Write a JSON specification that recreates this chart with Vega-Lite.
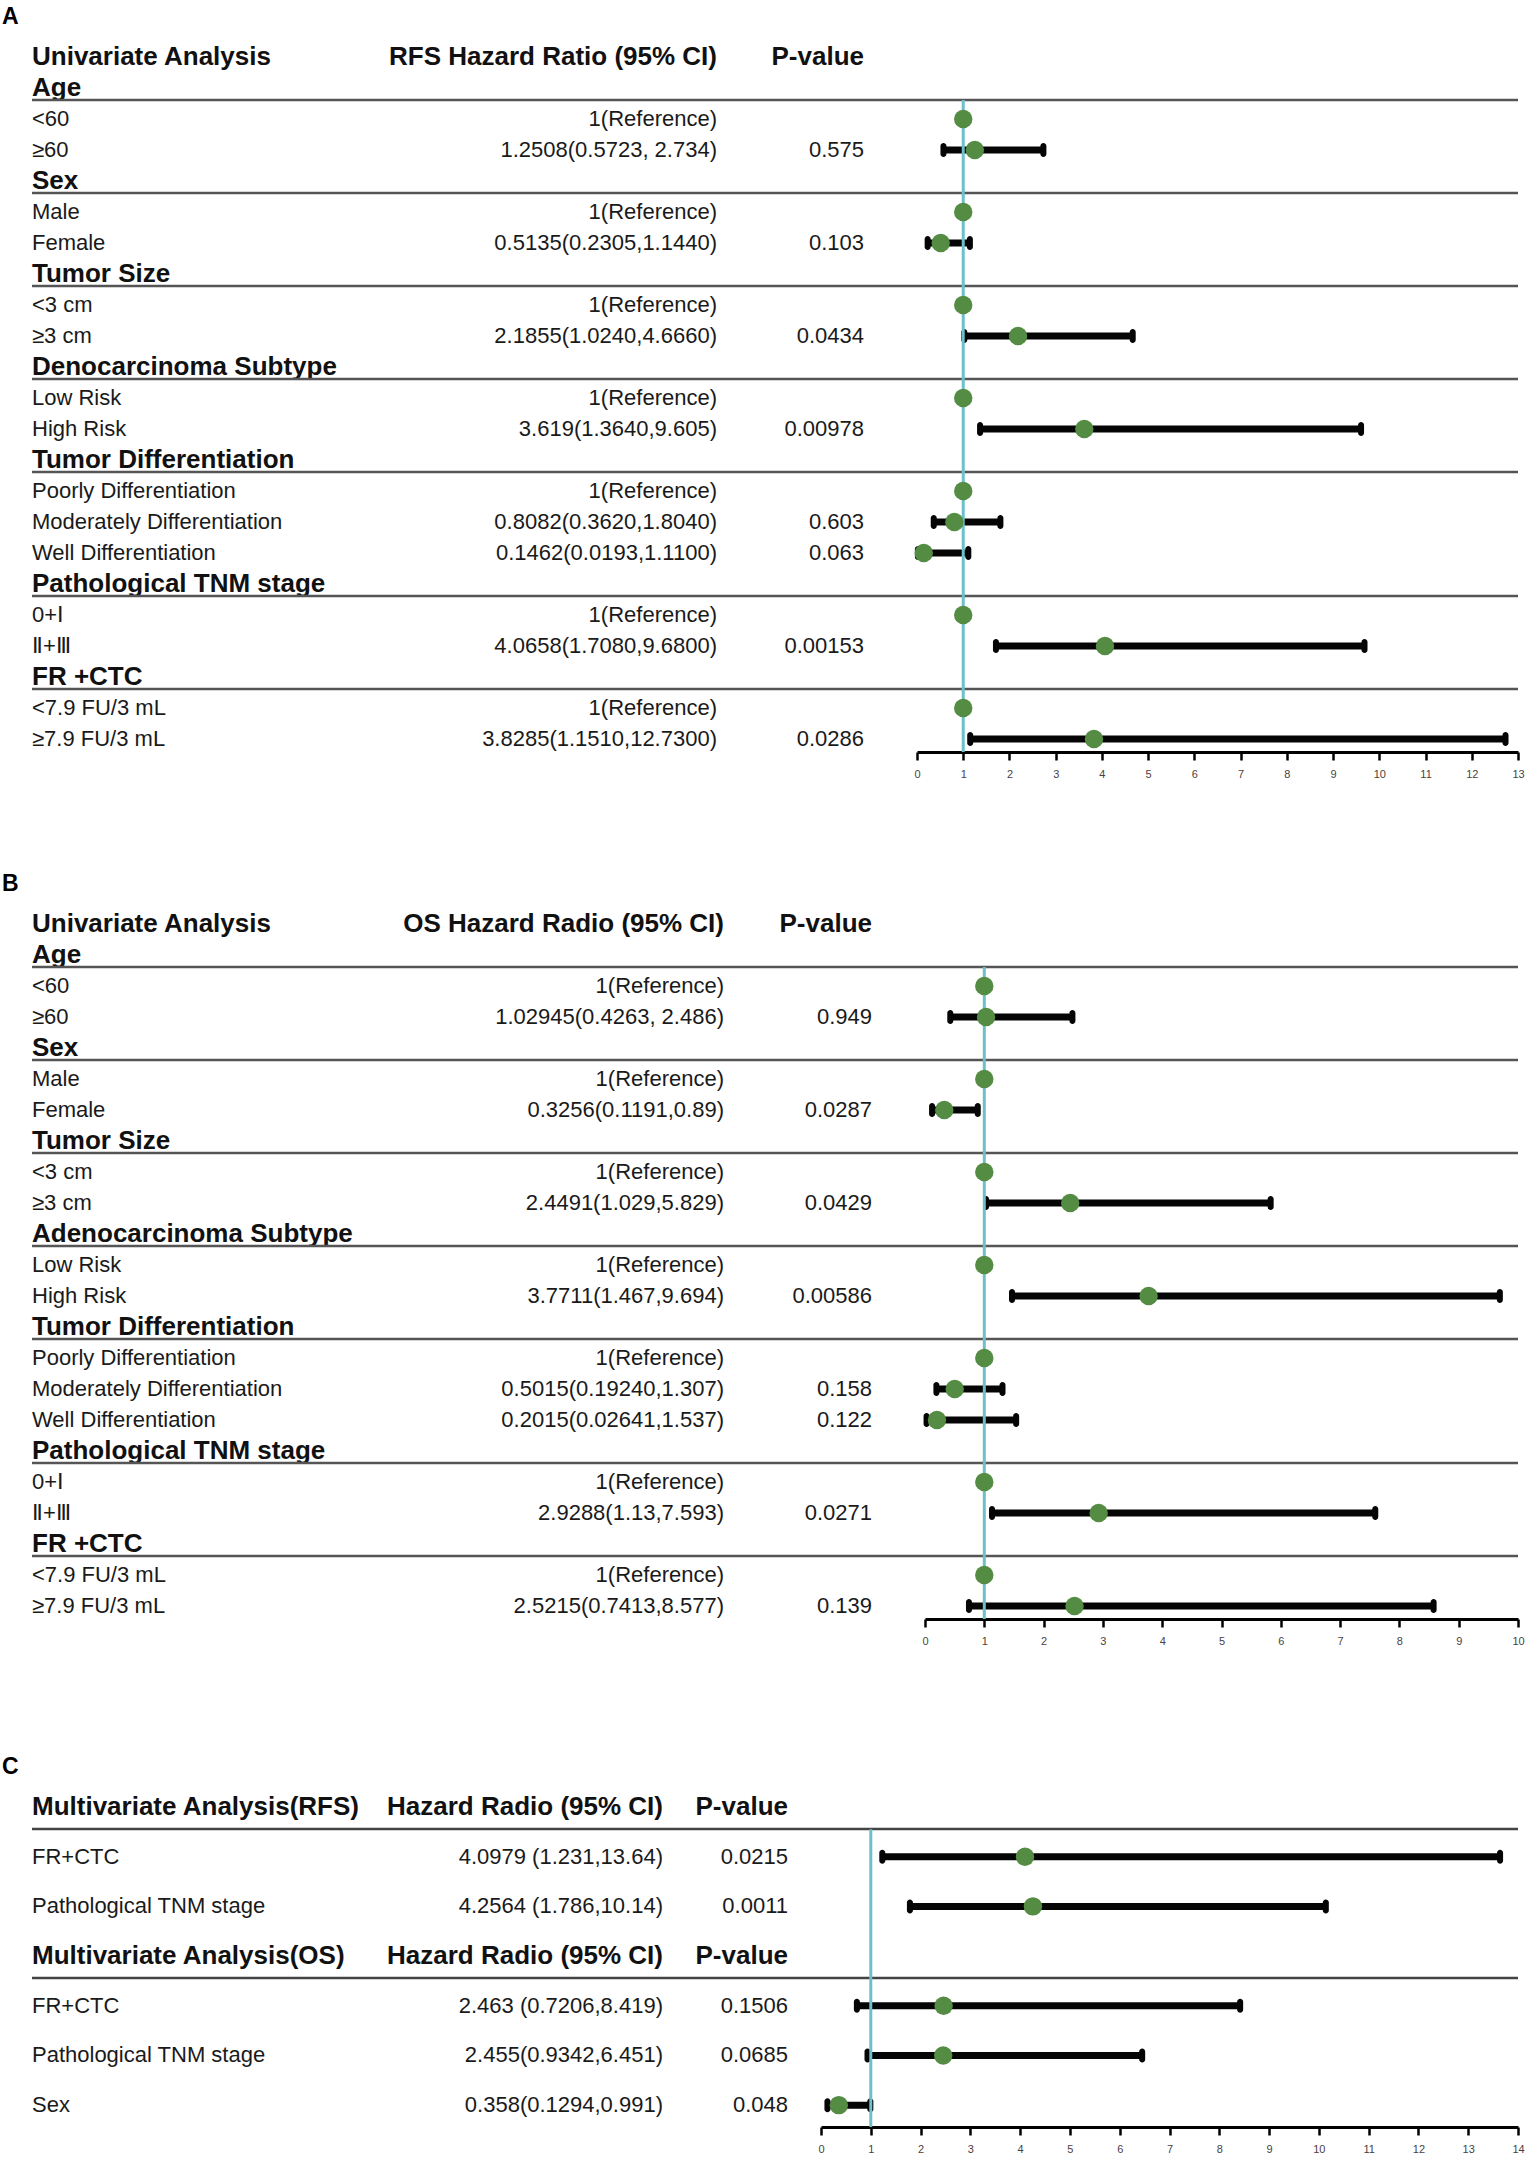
{
  "$schema": "https://vega.github.io/schema/vega-lite/v6.json",
  "background": "white",
  "padding": {"left": 2, "top": 0, "right": 0, "bottom": 0},
  "autosize": {"type": "pad"},
  "spacing": 88,
  "config": {
    "view": {"stroke": null},
    "text": {"font": "Liberation Sans", "color": "#1a1a1a"},
    "axis": {"labelFont": "Liberation Sans"}
  },
  "datasets": {
    "A": [
      {"r": -1.3, "kind": "letter", "label": "A", "hrtxt": "", "ptxt": ""},
      {"r": 0, "kind": "head", "label": "Univariate Analysis", "hrtxt": "RFS Hazard Ratio (95% CI)", "ptxt": "P-value"},
      {"r": 1, "kind": "cat", "label": "Age", "hrtxt": "", "ptxt": ""},
      {"r": 2, "kind": "item", "label": "<60", "hrtxt": "1(Reference)", "ptxt": "", "hr": 1},
      {"r": 3, "kind": "item", "label": "≥60", "hrtxt": "1.2508(0.5723, 2.734)", "ptxt": "0.575", "hr": 1.2508, "lo": 0.5723, "hi": 2.734},
      {"r": 4, "kind": "cat", "label": "Sex", "hrtxt": "", "ptxt": ""},
      {"r": 5, "kind": "item", "label": "Male", "hrtxt": "1(Reference)", "ptxt": "", "hr": 1},
      {"r": 6, "kind": "item", "label": "Female", "hrtxt": "0.5135(0.2305,1.1440)", "ptxt": "0.103", "hr": 0.5135, "lo": 0.2305, "hi": 1.144},
      {"r": 7, "kind": "cat", "label": "Tumor Size", "hrtxt": "", "ptxt": ""},
      {"r": 8, "kind": "item", "label": "<3 cm", "hrtxt": "1(Reference)", "ptxt": "", "hr": 1},
      {"r": 9, "kind": "item", "label": "≥3 cm", "hrtxt": "2.1855(1.0240,4.6660)", "ptxt": "0.0434", "hr": 2.1855, "lo": 1.024, "hi": 4.666},
      {"r": 10, "kind": "cat", "label": "Denocarcinoma Subtype", "hrtxt": "", "ptxt": ""},
      {"r": 11, "kind": "item", "label": "Low Risk", "hrtxt": "1(Reference)", "ptxt": "", "hr": 1},
      {"r": 12, "kind": "item", "label": "High Risk", "hrtxt": "3.619(1.3640,9.605)", "ptxt": "0.00978", "hr": 3.619, "lo": 1.364, "hi": 9.605},
      {"r": 13, "kind": "cat", "label": "Tumor Differentiation", "hrtxt": "", "ptxt": ""},
      {"r": 14, "kind": "item", "label": "Poorly Differentiation", "hrtxt": "1(Reference)", "ptxt": "", "hr": 1},
      {"r": 15, "kind": "item", "label": "Moderately Differentiation", "hrtxt": "0.8082(0.3620,1.8040)", "ptxt": "0.603", "hr": 0.8082, "lo": 0.362, "hi": 1.804},
      {"r": 16, "kind": "item", "label": "Well Differentiation", "hrtxt": "0.1462(0.0193,1.1100)", "ptxt": "0.063", "hr": 0.1462, "lo": 0.0193, "hi": 1.11},
      {"r": 17, "kind": "cat", "label": "Pathological TNM stage", "hrtxt": "", "ptxt": ""},
      {"r": 18, "kind": "item", "label": "0+Ⅰ", "hrtxt": "1(Reference)", "ptxt": "", "hr": 1},
      {"r": 19, "kind": "item", "label": "Ⅱ+Ⅲ", "hrtxt": "4.0658(1.7080,9.6800)", "ptxt": "0.00153", "hr": 4.0658, "lo": 1.708, "hi": 9.68},
      {"r": 20, "kind": "cat", "label": "FR +CTC", "hrtxt": "", "ptxt": ""},
      {"r": 21, "kind": "item", "label": "<7.9 FU/3 mL", "hrtxt": "1(Reference)", "ptxt": "", "hr": 1},
      {"r": 22, "kind": "item", "label": "≥7.9 FU/3 mL", "hrtxt": "3.8285(1.1510,12.7300)", "ptxt": "0.0286", "hr": 3.8285, "lo": 1.151, "hi": 12.73}
    ],
    "B": [
      {"r": -1.3, "kind": "letter", "label": "B", "hrtxt": "", "ptxt": ""},
      {"r": 0, "kind": "head", "label": "Univariate Analysis", "hrtxt": "OS Hazard Radio (95% CI)", "ptxt": "P-value"},
      {"r": 1, "kind": "cat", "label": "Age", "hrtxt": "", "ptxt": ""},
      {"r": 2, "kind": "item", "label": "<60", "hrtxt": "1(Reference)", "ptxt": "", "hr": 1},
      {"r": 3, "kind": "item", "label": "≥60", "hrtxt": "1.02945(0.4263, 2.486)", "ptxt": "0.949", "hr": 1.02945, "lo": 0.4263, "hi": 2.486},
      {"r": 4, "kind": "cat", "label": "Sex", "hrtxt": "", "ptxt": ""},
      {"r": 5, "kind": "item", "label": "Male", "hrtxt": "1(Reference)", "ptxt": "", "hr": 1},
      {"r": 6, "kind": "item", "label": "Female", "hrtxt": "0.3256(0.1191,0.89)", "ptxt": "0.0287", "hr": 0.3256, "lo": 0.1191, "hi": 0.89},
      {"r": 7, "kind": "cat", "label": "Tumor Size", "hrtxt": "", "ptxt": ""},
      {"r": 8, "kind": "item", "label": "<3 cm", "hrtxt": "1(Reference)", "ptxt": "", "hr": 1},
      {"r": 9, "kind": "item", "label": "≥3 cm", "hrtxt": "2.4491(1.029,5.829)", "ptxt": "0.0429", "hr": 2.4491, "lo": 1.029, "hi": 5.829},
      {"r": 10, "kind": "cat", "label": "Adenocarcinoma Subtype", "hrtxt": "", "ptxt": ""},
      {"r": 11, "kind": "item", "label": "Low Risk", "hrtxt": "1(Reference)", "ptxt": "", "hr": 1},
      {"r": 12, "kind": "item", "label": "High Risk", "hrtxt": "3.7711(1.467,9.694)", "ptxt": "0.00586", "hr": 3.7711, "lo": 1.467, "hi": 9.694},
      {"r": 13, "kind": "cat", "label": "Tumor Differentiation", "hrtxt": "", "ptxt": ""},
      {"r": 14, "kind": "item", "label": "Poorly Differentiation", "hrtxt": "1(Reference)", "ptxt": "", "hr": 1},
      {"r": 15, "kind": "item", "label": "Moderately Differentiation", "hrtxt": "0.5015(0.19240,1.307)", "ptxt": "0.158", "hr": 0.5015, "lo": 0.1924, "hi": 1.307},
      {"r": 16, "kind": "item", "label": "Well Differentiation", "hrtxt": "0.2015(0.02641,1.537)", "ptxt": "0.122", "hr": 0.2015, "lo": 0.02641, "hi": 1.537},
      {"r": 17, "kind": "cat", "label": "Pathological TNM stage", "hrtxt": "", "ptxt": ""},
      {"r": 18, "kind": "item", "label": "0+Ⅰ", "hrtxt": "1(Reference)", "ptxt": "", "hr": 1},
      {"r": 19, "kind": "item", "label": "Ⅱ+Ⅲ", "hrtxt": "2.9288(1.13,7.593)", "ptxt": "0.0271", "hr": 2.9288, "lo": 1.13, "hi": 7.593},
      {"r": 20, "kind": "cat", "label": "FR +CTC", "hrtxt": "", "ptxt": ""},
      {"r": 21, "kind": "item", "label": "<7.9 FU/3 mL", "hrtxt": "1(Reference)", "ptxt": "", "hr": 1},
      {"r": 22, "kind": "item", "label": "≥7.9 FU/3 mL", "hrtxt": "2.5215(0.7413,8.577)", "ptxt": "0.139", "hr": 2.5215, "lo": 0.7413, "hi": 8.577}
    ],
    "C": [
      {"r": -0.8, "kind": "letter", "label": "C", "hrtxt": "", "ptxt": ""},
      {"r": 0, "kind": "head", "label": "Multivariate Analysis(RFS)", "hrtxt": "Hazard Radio (95% CI)", "ptxt": "P-value"},
      {"r": 1, "kind": "item", "label": "FR+CTC", "hrtxt": "4.0979 (1.231,13.64)", "ptxt": "0.0215", "hr": 4.0979, "lo": 1.231, "hi": 13.64},
      {"r": 2, "kind": "item", "label": "Pathological TNM stage", "hrtxt": "4.2564 (1.786,10.14)", "ptxt": "0.0011", "hr": 4.2564, "lo": 1.786, "hi": 10.14},
      {"r": 3, "kind": "head", "label": "Multivariate Analysis(OS)", "hrtxt": "Hazard Radio (95% CI)", "ptxt": "P-value"},
      {"r": 4, "kind": "item", "label": "FR+CTC", "hrtxt": "2.463 (0.7206,8.419)", "ptxt": "0.1506", "hr": 2.463, "lo": 0.7206, "hi": 8.419},
      {"r": 5, "kind": "item", "label": "Pathological TNM stage", "hrtxt": "2.455(0.9342,6.451)", "ptxt": "0.0685", "hr": 2.455, "lo": 0.9342, "hi": 6.451},
      {"r": 6, "kind": "item", "label": "Sex", "hrtxt": "0.358(0.1294,0.991)", "ptxt": "0.048", "hr": 0.358, "lo": 0.1294, "hi": 0.991}
    ]
  },
  "vconcat": [
    {
      "bounds": "flush",
      "spacing": 0,
      "hconcat": [
        {
          "width": 30, "height": 752, "data": {"name": "A"},
          "layer": [
            {"transform": [{"filter": "datum.kind == 'letter'"}],
             "mark": {"type": "text", "align": "left", "baseline": "middle", "fontSize": 23, "fontWeight": "bold", "color": "#000000"},
             "encoding": {"x": {"datum": "letter", "type": "nominal", "scale": {"type": "point", "domain": ["letter", "label"], "padding": 0}, "axis": null},
                          "y": {"field": "r", "type": "quantitative", "scale": {"domain": [-1.839, 22.42], "reverse": true, "nice": false, "zero": false}, "axis": null},
                          "text": {"field": "label"}}},
            {"transform": [{"filter": "datum.kind == 'head' || datum.kind == 'cat'"}],
             "mark": {"type": "text", "align": "left", "baseline": "middle", "fontSize": 26, "fontWeight": "bold", "color": "#111111"},
             "encoding": {"x": {"datum": "label", "type": "nominal"}, "y": {"field": "r", "type": "quantitative"}, "text": {"field": "label"}}},
            {"transform": [{"filter": "datum.kind == 'item'"}],
             "mark": {"type": "text", "align": "left", "baseline": "middle", "fontSize": 22, "color": "#1a1a1a"},
             "encoding": {"x": {"datum": "label", "type": "nominal"}, "y": {"field": "r", "type": "quantitative"}, "text": {"field": "label"}}}
          ]
        },
        {
          "width": 685, "height": 752, "data": {"name": "A"},
          "layer": [
            {"transform": [{"filter": "datum.kind == 'cat'"}],
             "mark": {"type": "rule", "yOffset": 12, "color": "#555555", "strokeWidth": 2.5},
             "encoding": {"y": {"field": "r", "type": "quantitative", "scale": {"domain": [-1.839, 22.42], "reverse": true, "nice": false, "zero": false}, "axis": null}}},
            {"transform": [{"filter": "datum.kind == 'head'"}],
             "mark": {"type": "text", "align": "right", "baseline": "middle", "fontSize": 26, "fontWeight": "bold", "color": "#111111"},
             "encoding": {"x": {"datum": "hr", "type": "nominal", "scale": {"type": "point", "domain": ["hr"], "padding": 0, "align": 1}, "axis": null},
                          "y": {"field": "r", "type": "quantitative"}, "text": {"field": "hrtxt"}}},
            {"transform": [{"filter": "datum.kind == 'item'"}],
             "mark": {"type": "text", "align": "right", "baseline": "middle", "fontSize": 22, "color": "#1a1a1a"},
             "encoding": {"x": {"datum": "hr", "type": "nominal"}, "y": {"field": "r", "type": "quantitative"}, "text": {"field": "hrtxt"}}}
          ]
        },
        {
          "width": 200, "height": 752, "data": {"name": "A"},
          "layer": [
            {"transform": [{"filter": "datum.kind == 'cat'"}],
             "mark": {"type": "rule", "yOffset": 12, "color": "#555555", "strokeWidth": 2.5},
             "encoding": {"y": {"field": "r", "type": "quantitative", "scale": {"domain": [-1.839, 22.42], "reverse": true, "nice": false, "zero": false}, "axis": null}}},
            {"transform": [{"filter": "datum.kind == 'head'"}],
             "mark": {"type": "text", "align": "right", "baseline": "middle", "fontSize": 26, "fontWeight": "bold", "color": "#111111"},
             "encoding": {"x": {"datum": "p", "type": "nominal", "scale": {"type": "point", "domain": ["p"], "padding": 0, "align": 0.735}, "axis": null},
                          "y": {"field": "r", "type": "quantitative"}, "text": {"field": "ptxt"}}},
            {"transform": [{"filter": "datum.kind == 'item'"}],
             "mark": {"type": "text", "align": "right", "baseline": "middle", "fontSize": 22, "color": "#1a1a1a"},
             "encoding": {"x": {"datum": "p", "type": "nominal"}, "y": {"field": "r", "type": "quantitative"}, "text": {"field": "ptxt"}}}
          ]
        },
        {
          "width": 601, "height": 752, "data": {"name": "A"},
          "layer": [
            {"transform": [{"filter": "datum.kind == 'cat'"}],
             "mark": {"type": "rule", "yOffset": 12, "color": "#555555", "strokeWidth": 2.5},
             "encoding": {"y": {"field": "r", "type": "quantitative", "scale": {"domain": [-1.839, 22.42], "reverse": true, "nice": false, "zero": false}, "axis": null}}},
            {"transform": [{"filter": "isValid(datum.lo)"}],
             "mark": {"type": "rule", "color": "#050505", "strokeWidth": 7},
             "encoding": {"x": {"field": "lo", "type": "quantitative", "scale": {"domain": [0, 13], "nice": false, "zero": false},
                                "axis": {"values": [0,1,2,3,4,5,6,7,8,9,10,11,12,13], "format": "d", "title": null, "grid": false, "domainColor": "#000000", "domainWidth": 3, "tickColor": "#000000", "tickWidth": 2.5, "tickSize": 8, "labelFontSize": 11, "labelColor": "#4a3f3f", "labelPadding": 8, "labelFlush": false, "labelOverlap": false}},
                          "x2": {"field": "hi"}, "y": {"field": "r", "type": "quantitative"}}},
            {"transform": [{"filter": "isValid(datum.lo)"}],
             "mark": {"type": "tick", "orient": "vertical", "color": "#050505", "thickness": 6, "size": 14, "cornerRadius": 3, "opacity": 1},
             "encoding": {"x": {"field": "lo", "type": "quantitative"}, "y": {"field": "r", "type": "quantitative"}}},
            {"transform": [{"filter": "isValid(datum.hi)"}],
             "mark": {"type": "tick", "orient": "vertical", "color": "#050505", "thickness": 6, "size": 14, "cornerRadius": 3, "opacity": 1},
             "encoding": {"x": {"field": "hi", "type": "quantitative"}, "y": {"field": "r", "type": "quantitative"}}},
            {"transform": [{"filter": "datum.kind == 'letter'"}],
             "mark": {"type": "rule", "color": "#6cc0cc", "strokeWidth": 3},
             "encoding": {"x": {"datum": 1, "type": "quantitative"}, "y": {"datum": 1.39, "type": "quantitative"}, "y2": {"datum": 22.42}}},
            {"transform": [{"filter": "isValid(datum.hr)"}],
             "mark": {"type": "point", "shape": "circle", "filled": true, "size": 340, "color": "#548c44", "opacity": 1},
             "encoding": {"x": {"field": "hr", "type": "quantitative"}, "y": {"field": "r", "type": "quantitative"}}}
          ]
        }
      ]
    },
    {
      "bounds": "flush",
      "spacing": 0,
      "hconcat": [
        {
          "width": 30, "height": 752, "data": {"name": "B"},
          "layer": [
            {"transform": [{"filter": "datum.kind == 'letter'"}],
             "mark": {"type": "text", "align": "left", "baseline": "middle", "fontSize": 23, "fontWeight": "bold", "color": "#000000"},
             "encoding": {"x": {"datum": "letter", "type": "nominal", "scale": {"type": "point", "domain": ["letter", "label"], "padding": 0}, "axis": null},
                          "y": {"field": "r", "type": "quantitative", "scale": {"domain": [-1.839, 22.42], "reverse": true, "nice": false, "zero": false}, "axis": null},
                          "text": {"field": "label"}}},
            {"transform": [{"filter": "datum.kind == 'head' || datum.kind == 'cat'"}],
             "mark": {"type": "text", "align": "left", "baseline": "middle", "fontSize": 26, "fontWeight": "bold", "color": "#111111"},
             "encoding": {"x": {"datum": "label", "type": "nominal"}, "y": {"field": "r", "type": "quantitative"}, "text": {"field": "label"}}},
            {"transform": [{"filter": "datum.kind == 'item'"}],
             "mark": {"type": "text", "align": "left", "baseline": "middle", "fontSize": 22, "color": "#1a1a1a"},
             "encoding": {"x": {"datum": "label", "type": "nominal"}, "y": {"field": "r", "type": "quantitative"}, "text": {"field": "label"}}}
          ]
        },
        {
          "width": 692, "height": 752, "data": {"name": "B"},
          "layer": [
            {"transform": [{"filter": "datum.kind == 'cat'"}],
             "mark": {"type": "rule", "yOffset": 12, "color": "#555555", "strokeWidth": 2.5},
             "encoding": {"y": {"field": "r", "type": "quantitative", "scale": {"domain": [-1.839, 22.42], "reverse": true, "nice": false, "zero": false}, "axis": null}}},
            {"transform": [{"filter": "datum.kind == 'head'"}],
             "mark": {"type": "text", "align": "right", "baseline": "middle", "fontSize": 26, "fontWeight": "bold", "color": "#111111"},
             "encoding": {"x": {"datum": "hr", "type": "nominal", "scale": {"type": "point", "domain": ["hr"], "padding": 0, "align": 1}, "axis": null},
                          "y": {"field": "r", "type": "quantitative"}, "text": {"field": "hrtxt"}}},
            {"transform": [{"filter": "datum.kind == 'item'"}],
             "mark": {"type": "text", "align": "right", "baseline": "middle", "fontSize": 22, "color": "#1a1a1a"},
             "encoding": {"x": {"datum": "hr", "type": "nominal"}, "y": {"field": "r", "type": "quantitative"}, "text": {"field": "hrtxt"}}}
          ]
        },
        {
          "width": 201, "height": 752, "data": {"name": "B"},
          "layer": [
            {"transform": [{"filter": "datum.kind == 'cat'"}],
             "mark": {"type": "rule", "yOffset": 12, "color": "#555555", "strokeWidth": 2.5},
             "encoding": {"y": {"field": "r", "type": "quantitative", "scale": {"domain": [-1.839, 22.42], "reverse": true, "nice": false, "zero": false}, "axis": null}}},
            {"transform": [{"filter": "datum.kind == 'head'"}],
             "mark": {"type": "text", "align": "right", "baseline": "middle", "fontSize": 26, "fontWeight": "bold", "color": "#111111"},
             "encoding": {"x": {"datum": "p", "type": "nominal", "scale": {"type": "point", "domain": ["p"], "padding": 0, "align": 0.7363}, "axis": null},
                          "y": {"field": "r", "type": "quantitative"}, "text": {"field": "ptxt"}}},
            {"transform": [{"filter": "datum.kind == 'item'"}],
             "mark": {"type": "text", "align": "right", "baseline": "middle", "fontSize": 22, "color": "#1a1a1a"},
             "encoding": {"x": {"datum": "p", "type": "nominal"}, "y": {"field": "r", "type": "quantitative"}, "text": {"field": "ptxt"}}}
          ]
        },
        {
          "width": 593, "height": 752, "data": {"name": "B"},
          "layer": [
            {"transform": [{"filter": "datum.kind == 'cat'"}],
             "mark": {"type": "rule", "yOffset": 12, "color": "#555555", "strokeWidth": 2.5},
             "encoding": {"y": {"field": "r", "type": "quantitative", "scale": {"domain": [-1.839, 22.42], "reverse": true, "nice": false, "zero": false}, "axis": null}}},
            {"transform": [{"filter": "isValid(datum.lo)"}],
             "mark": {"type": "rule", "color": "#050505", "strokeWidth": 7},
             "encoding": {"x": {"field": "lo", "type": "quantitative", "scale": {"domain": [0, 10], "nice": false, "zero": false},
                                "axis": {"values": [0,1,2,3,4,5,6,7,8,9,10], "format": "d", "title": null, "grid": false, "domainColor": "#000000", "domainWidth": 3, "tickColor": "#000000", "tickWidth": 2.5, "tickSize": 8, "labelFontSize": 11, "labelColor": "#4a3f3f", "labelPadding": 8, "labelFlush": false, "labelOverlap": false}},
                          "x2": {"field": "hi"}, "y": {"field": "r", "type": "quantitative"}}},
            {"transform": [{"filter": "isValid(datum.lo)"}],
             "mark": {"type": "tick", "orient": "vertical", "color": "#050505", "thickness": 6, "size": 14, "cornerRadius": 3, "opacity": 1},
             "encoding": {"x": {"field": "lo", "type": "quantitative"}, "y": {"field": "r", "type": "quantitative"}}},
            {"transform": [{"filter": "isValid(datum.hi)"}],
             "mark": {"type": "tick", "orient": "vertical", "color": "#050505", "thickness": 6, "size": 14, "cornerRadius": 3, "opacity": 1},
             "encoding": {"x": {"field": "hi", "type": "quantitative"}, "y": {"field": "r", "type": "quantitative"}}},
            {"transform": [{"filter": "datum.kind == 'letter'"}],
             "mark": {"type": "rule", "color": "#6cc0cc", "strokeWidth": 3},
             "encoding": {"x": {"datum": 1, "type": "quantitative"}, "y": {"datum": 1.39, "type": "quantitative"}, "y2": {"datum": 22.42}}},
            {"transform": [{"filter": "isValid(datum.hr)"}],
             "mark": {"type": "point", "shape": "circle", "filled": true, "size": 340, "color": "#548c44", "opacity": 1},
             "encoding": {"x": {"field": "hr", "type": "quantitative"}, "y": {"field": "r", "type": "quantitative"}}}
          ]
        }
      ]
    },
    {
      "bounds": "flush",
      "spacing": 0,
      "hconcat": [
        {
          "width": 30, "height": 393, "data": {"name": "C"},
          "layer": [
            {"transform": [{"filter": "datum.kind == 'letter'"}],
             "mark": {"type": "text", "align": "left", "baseline": "middle", "fontSize": 23, "fontWeight": "bold", "color": "#000000"},
             "encoding": {"x": {"datum": "letter", "type": "nominal", "scale": {"type": "point", "domain": ["letter", "label"], "padding": 0}, "axis": null},
                          "y": {"field": "r", "type": "quantitative", "scale": {"domain": [-1.469, 6.44], "reverse": true, "nice": false, "zero": false}, "axis": null},
                          "text": {"field": "label"}}},
            {"transform": [{"filter": "datum.kind == 'head'"}],
             "mark": {"type": "text", "align": "left", "baseline": "middle", "fontSize": 26, "fontWeight": "bold", "color": "#111111"},
             "encoding": {"x": {"datum": "label", "type": "nominal"}, "y": {"field": "r", "type": "quantitative"}, "text": {"field": "label"}}},
            {"transform": [{"filter": "datum.kind == 'item'"}],
             "mark": {"type": "text", "align": "left", "baseline": "middle", "fontSize": 22, "color": "#1a1a1a"},
             "encoding": {"x": {"datum": "label", "type": "nominal"}, "y": {"field": "r", "type": "quantitative"}, "text": {"field": "label"}}}
          ]
        },
        {
          "width": 631, "height": 393, "data": {"name": "C"},
          "layer": [
            {"transform": [{"filter": "datum.kind == 'head'"}],
             "mark": {"type": "rule", "yOffset": 22, "color": "#444444", "strokeWidth": 2.5},
             "encoding": {"y": {"field": "r", "type": "quantitative", "scale": {"domain": [-1.469, 6.44], "reverse": true, "nice": false, "zero": false}, "axis": null}}},
            {"transform": [{"filter": "datum.kind == 'head'"}],
             "mark": {"type": "text", "align": "right", "baseline": "middle", "fontSize": 26, "fontWeight": "bold", "color": "#111111"},
             "encoding": {"x": {"datum": "hr", "type": "nominal", "scale": {"type": "point", "domain": ["hr"], "padding": 0, "align": 1}, "axis": null},
                          "y": {"field": "r", "type": "quantitative"}, "text": {"field": "hrtxt"}}},
            {"transform": [{"filter": "datum.kind == 'item'"}],
             "mark": {"type": "text", "align": "right", "baseline": "middle", "fontSize": 22, "color": "#1a1a1a"},
             "encoding": {"x": {"datum": "hr", "type": "nominal"}, "y": {"field": "r", "type": "quantitative"}, "text": {"field": "hrtxt"}}}
          ]
        },
        {
          "width": 158, "height": 393, "data": {"name": "C"},
          "layer": [
            {"transform": [{"filter": "datum.kind == 'head'"}],
             "mark": {"type": "rule", "yOffset": 22, "color": "#444444", "strokeWidth": 2.5},
             "encoding": {"y": {"field": "r", "type": "quantitative", "scale": {"domain": [-1.469, 6.44], "reverse": true, "nice": false, "zero": false}, "axis": null}}},
            {"transform": [{"filter": "datum.kind == 'head'"}],
             "mark": {"type": "text", "align": "right", "baseline": "middle", "fontSize": 26, "fontWeight": "bold", "color": "#111111"},
             "encoding": {"x": {"datum": "p", "type": "nominal", "scale": {"type": "point", "domain": ["p"], "padding": 0, "align": 0.7911}, "axis": null},
                          "y": {"field": "r", "type": "quantitative"}, "text": {"field": "ptxt"}}},
            {"transform": [{"filter": "datum.kind == 'item'"}],
             "mark": {"type": "text", "align": "right", "baseline": "middle", "fontSize": 22, "color": "#1a1a1a"},
             "encoding": {"x": {"datum": "p", "type": "nominal"}, "y": {"field": "r", "type": "quantitative"}, "text": {"field": "ptxt"}}}
          ]
        },
        {
          "width": 697, "height": 393, "data": {"name": "C"},
          "layer": [
            {"transform": [{"filter": "datum.kind == 'head'"}],
             "mark": {"type": "rule", "yOffset": 22, "color": "#444444", "strokeWidth": 2.5},
             "encoding": {"y": {"field": "r", "type": "quantitative", "scale": {"domain": [-1.469, 6.44], "reverse": true, "nice": false, "zero": false}, "axis": null}}},
            {"transform": [{"filter": "isValid(datum.lo)"}],
             "mark": {"type": "rule", "color": "#050505", "strokeWidth": 7},
             "encoding": {"x": {"field": "lo", "type": "quantitative", "scale": {"domain": [0, 14], "nice": false, "zero": false},
                                "axis": {"values": [0,1,2,3,4,5,6,7,8,9,10,11,12,13,14], "format": "d", "title": null, "grid": false, "domainColor": "#000000", "domainWidth": 3, "tickColor": "#000000", "tickWidth": 2.5, "tickSize": 8, "labelFontSize": 11, "labelColor": "#4a3f3f", "labelPadding": 8, "labelFlush": false, "labelOverlap": false}},
                          "x2": {"field": "hi"}, "y": {"field": "r", "type": "quantitative"}}},
            {"transform": [{"filter": "isValid(datum.lo)"}],
             "mark": {"type": "tick", "orient": "vertical", "color": "#050505", "thickness": 6, "size": 14, "cornerRadius": 3, "opacity": 1},
             "encoding": {"x": {"field": "lo", "type": "quantitative"}, "y": {"field": "r", "type": "quantitative"}}},
            {"transform": [{"filter": "isValid(datum.hi)"}],
             "mark": {"type": "tick", "orient": "vertical", "color": "#050505", "thickness": 6, "size": 14, "cornerRadius": 3, "opacity": 1},
             "encoding": {"x": {"field": "hi", "type": "quantitative"}, "y": {"field": "r", "type": "quantitative"}}},
            {"transform": [{"filter": "datum.kind == 'letter'"}],
             "mark": {"type": "rule", "color": "#6cc0cc", "strokeWidth": 3},
             "encoding": {"x": {"datum": 1, "type": "quantitative"}, "y": {"datum": 0.45, "type": "quantitative"}, "y2": {"datum": 6.44}}},
            {"transform": [{"filter": "isValid(datum.hr)"}],
             "mark": {"type": "point", "shape": "circle", "filled": true, "size": 340, "color": "#548c44", "opacity": 1},
             "encoding": {"x": {"field": "hr", "type": "quantitative"}, "y": {"field": "r", "type": "quantitative"}}}
          ]
        }
      ]
    }
  ]
}
